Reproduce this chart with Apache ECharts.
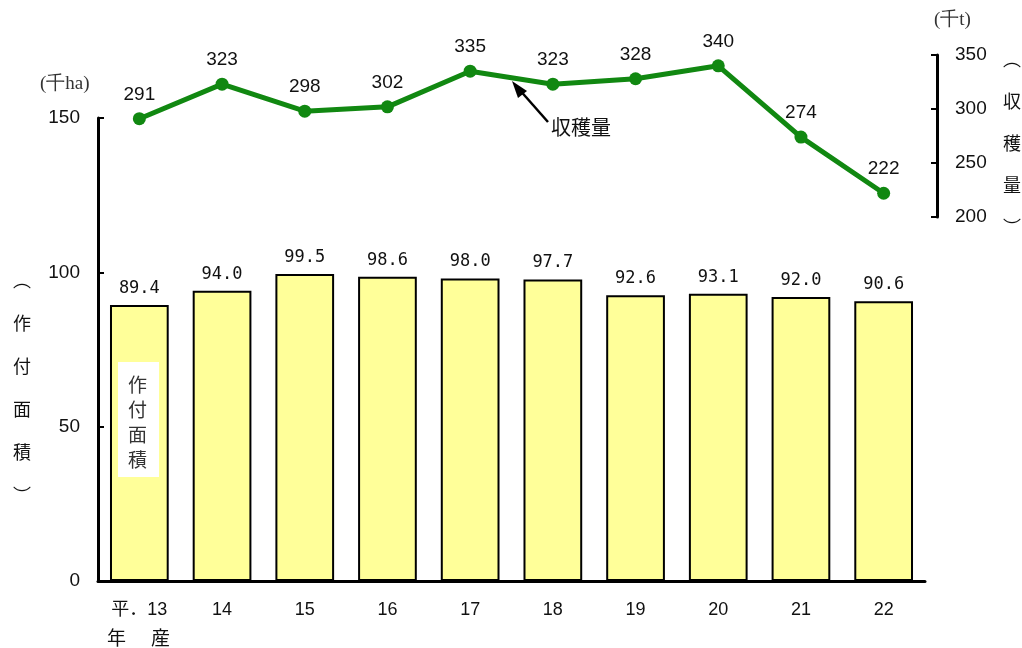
<!DOCTYPE html>
<html>
<head>
<meta charset="utf-8">
<script src="https://cdn.jsdelivr.net/npm/echarts@6/dist/echarts.min.js"></script>
<style>html,body{margin:0;padding:0;background:#fff}#c{width:1022px;height:648px}</style>
</head>
<body>
<div id="c"></div>
<script>
const categories = ['平．13', '14', '15', '16', '17', '18', '19', '20', '21', '22'];
const areaValues = [89.4, 94.0, 99.5, 98.6, 98.0, 97.7, 92.6, 93.1, 92.0, 90.6];
const harvestValues = [291, 323, 298, 302, 335, 323, 328, 340, 274, 222];
const leftTicks = [0, 50, 100, 150];
const rightTicks = [200, 250, 300, 350];

const sans = '"Liberation Sans", Arial, "Noto Sans CJK JP", sans-serif';
const cjk = '"Noto Sans CJK JP", sans-serif';
const chart = echarts.init(document.getElementById('c'), null, {renderer: 'canvas'});

const option = {
  animation: false,
  backgroundColor: '#fff',
  grid: [
    {left: 98, right: 97, top: 118, bottom: 67},
    {left: 98, right: 97, top: 55, bottom: 431}
  ],
  xAxis: [
    {
      type: 'category', gridIndex: 0, data: categories, boundaryGap: true,
      axisLine: {show: true, lineStyle: {color: '#000', width: 3}},
      axisTick: {show: false},
      axisLabel: {color: '#111', fontFamily: sans, fontSize: 18, margin: 20}
    },
    {
      type: 'category', gridIndex: 1, data: categories, boundaryGap: true,
      axisLine: {show: false}, axisTick: {show: false}, axisLabel: {show: false}
    }
  ],
  yAxis: [
    {
      type: 'value', gridIndex: 0, min: leftTicks[0], max: leftTicks[leftTicks.length - 1], interval: 50,
      axisLine: {show: true, lineStyle: {color: '#000', width: 3}},
      axisTick: {show: true, inside: true, length: 6, lineStyle: {color: '#000', width: 2}},
      axisLabel: {color: '#111', fontFamily: sans, fontSize: 19, margin: 18},
      splitLine: {show: false}
    },
    {
      type: 'value', gridIndex: 1, position: 'right', offset: 12,
      min: rightTicks[0], max: rightTicks[rightTicks.length - 1], interval: 50,
      axisLine: {show: true, lineStyle: {color: '#000', width: 3}},
      axisTick: {show: true, inside: true, length: 6, lineStyle: {color: '#000', width: 2}},
      axisLabel: {color: '#111', fontFamily: sans, fontSize: 19, margin: 18},
      splitLine: {show: false}
    }
  ],
  series: [
    {
      type: 'bar', xAxisIndex: 0, yAxisIndex: 0, data: areaValues,
      barWidth: '71%',
      itemStyle: {color: '#FFFF99', borderColor: '#000', borderWidth: 2},
      label: {
        show: true, position: 'top', distance: 8,
        fontFamily: '"DejaVu Sans Mono", monospace', fontSize: 17, color: '#111',
        formatter: p => p.value.toFixed(1)
      },
      z: 2
    },
    {
      type: 'line', xAxisIndex: 1, yAxisIndex: 1, data: harvestValues,
      lineStyle: {color: '#118811', width: 5},
      itemStyle: {color: '#118811'},
      symbol: 'circle', symbolSize: 13,
      label: {show: true, position: 'top', distance: 8, fontFamily: sans, fontSize: 19, color: '#111'},
      z: 5
    }
  ],
  graphic: [
    {type: 'text', left: 40, top: 75, style: {text: '(千ha)', font: '19px "Liberation Serif", "DejaVu Serif", serif', fill: '#333'}},
    {type: 'text', left: 934, top: 11, style: {text: '(千t)', font: '19px "Liberation Serif", "DejaVu Serif", serif', fill: '#333'}},
    {type: 'text', left: 13, top: 259, style: {text: '︵\n作\n付\n面\n積\n︶', font: '18px ' + cjk, lineHeight: 43, fill: '#111', align: 'left'}},
    {type: 'text', left: 1003, top: 38, style: {text: '︵\n収\n穫\n量\n︶', font: '18px ' + cjk, lineHeight: 42, fill: '#111', align: 'left'}},
    {type: 'rect', shape: {x: 118, y: 362, width: 41, height: 115}, style: {fill: '#fff'}, z: 10},
    {type: 'text', left: 128, top: 372, z: 11, style: {text: '作\n付\n面\n積', font: '19px ' + cjk, lineHeight: 25, fill: '#333'}},
    {type: 'text', left: 107, top: 628, style: {text: '年', font: '19px ' + cjk, fill: '#111'}},
    {type: 'text', left: 151, top: 628, style: {text: '産', font: '19px ' + cjk, fill: '#111'}},
    {type: 'line', shape: {x1: 548, y1: 122, x2: 518, y2: 88}, style: {stroke: '#000', lineWidth: 2.5}, z: 10},
    {type: 'polygon', shape: {points: [[512, 81], [527, 91], [518, 98]]}, style: {fill: '#000'}, z: 10},
    {type: 'text', left: 551, top: 117, style: {text: '収穫量', font: '20px ' + cjk, fill: '#111'}}
  ]
};
chart.setOption(option);
</script>
</body>
</html>
